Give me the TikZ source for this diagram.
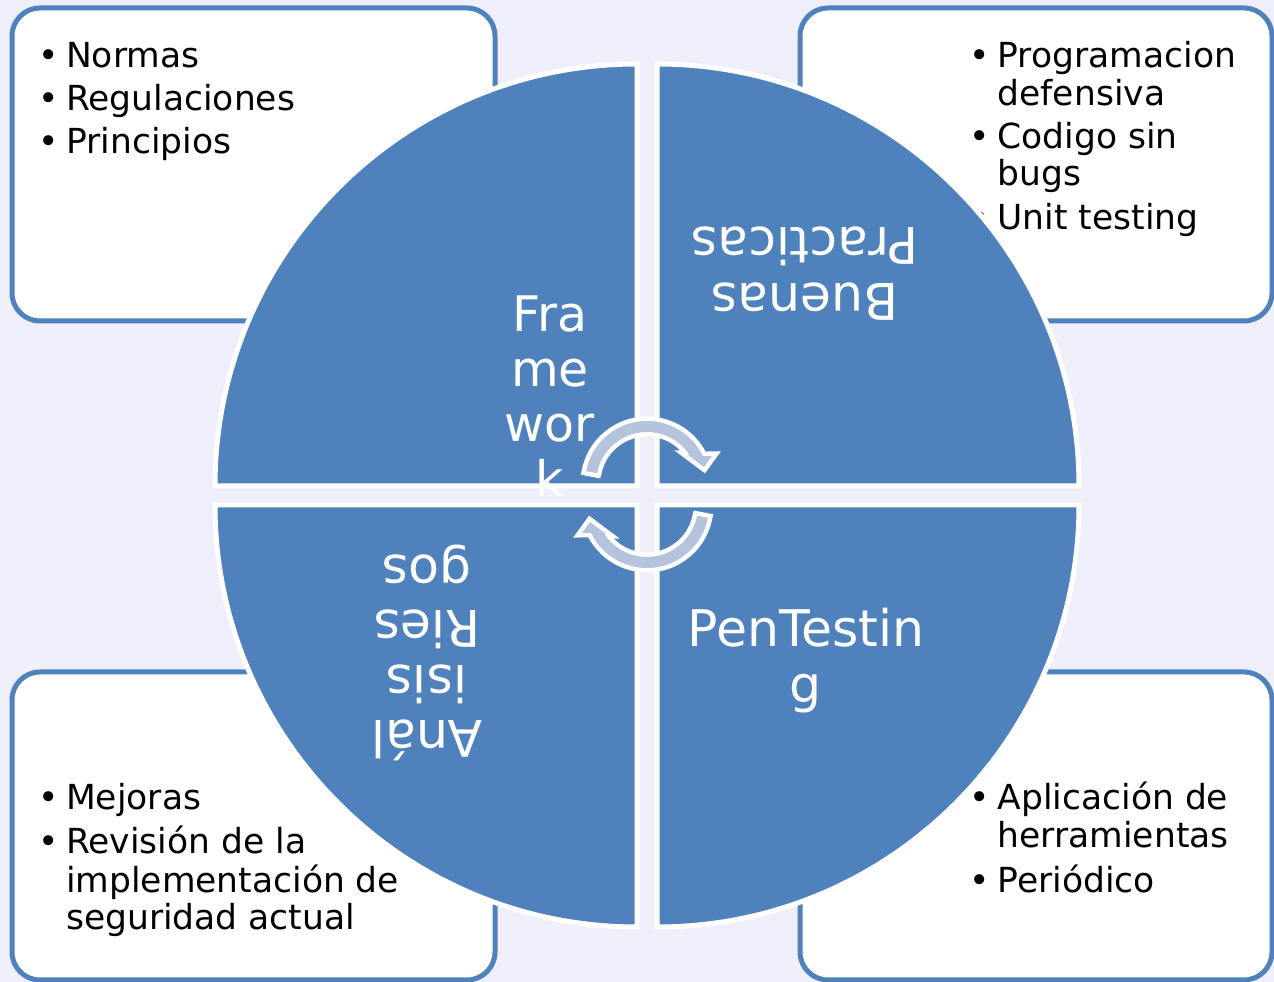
\documentclass[tikz,border=0pt]{standalone}
\usepackage{fontspec}
\setmainfont{DejaVu Sans}

\definecolor{quadblue}{RGB}{79,129,189}
\definecolor{paleback}{RGB}{239,239,251}
\definecolor{arrowfill}{RGB}{182,195,221}

\newcommand{\lbul}{\makebox[20pt]{\textbullet}}

\tikzset{%
  >=latex,
  quad/.style={fill=quadblue, draw=white, line width=5pt},
  listbox/.style={fill=white, draw=quadblue, line width=5pt, rounded corners=28pt},
  listtext/.style={anchor=base west, inner sep=0pt, font=\fontsize{34.5}{37}\selectfont},
  quadtext/.style={text=white, inner sep=0pt, align=center, font=\fontsize{50.5}{56}\selectfont},
  cyclearrow/.pic={
    \path[preaction={draw=white, line width=9pt}, fill=arrowfill]
      (169:62) arc[start angle=169, end angle=25.8, radius=62]
      -- (65,27) -- (57,16) -- (41,28)
      -- (33.3:51) arc[start angle=33.3, end angle=169, radius=51] -- cycle;
  }
}

\begin{document}
\begin{tikzpicture}[x=1pt, y=1pt]
     \newdimen\R
     \R=422pt
     \useasboundingbox[fill=paleback] (0,0) rectangle (1274,982);

     % corner boxes
     \draw[listbox] (12,661) rectangle (495,974);
     \draw[listbox] (800,661) rectangle (1272,974);
     \draw[listbox] (12,2) rectangle (495,310);
     \draw[listbox] (800,2) rectangle (1272,310);

     \node[listtext] (marco) at (38,914) {\begin{tabular}[t]{@{}l@{\hspace{8pt}}l@{}}
       \lbul & Normas\\[5.5pt]
       \lbul & Regulaciones\\[5.5pt]
       \lbul & Principios
     \end{tabular}};
     \node[listtext] (practicas) at (969.5,914) {\begin{tabular}[t]{@{}l@{\hspace{8pt}}l@{}}
       \lbul & Programacion\\
             & defensiva\\[6pt]
       \lbul & Codigo sin\\
             & bugs\\[6pt]
       \lbul & Unit testing
     \end{tabular}};
     \node[listtext] (riesgos) at (38,172) {\begin{tabular}[t]{@{}l@{\hspace{8pt}}l@{}}
       \lbul & Mejoras\\[5pt]
       \lbul & Revisión de la\\
             & implementación de\\
             & seguridad actual
     \end{tabular}};
     \node[listtext] (pruebas) at (969.5,172) {\begin{tabular}[t]{@{}l@{\hspace{8pt}}l@{}}
       \lbul & Aplicación de\\
             & herramientas\\[6pt]
       \lbul & Periódico
     \end{tabular}};

     % four quarters of the disc
     \foreach \cx/\cy/\a in {637/496/90, 657/496/0, 637/477/180, 657/477/270}
       \draw[quad] (\cx,\cy) -- ++(\a:\R) arc[start angle=\a, delta angle=90, radius=\R] -- cycle;

     \pic at (647,499) {cyclearrow};
     \pic[rotate=180] at (647,476) {cyclearrow};

     \node[quadtext, anchor=north, font=\fontsize{49}{55}\selectfont] (framework) at (550,686) {Fra\\me\\wor\\k};
     \node[quadtext, rotate=180] (buenas) at (805,708) {Buenas\\Practicas};
     \node[quadtext, rotate=180, font=\fontsize{50.5}{55}\selectfont] (analisis) at (427,329) {Anál\\isis\\Ries\\gos};
     \node[quadtext, anchor=north] (pentest) at (806,374) {PenTestin\\g};
\end{tikzpicture}
\end{document}
